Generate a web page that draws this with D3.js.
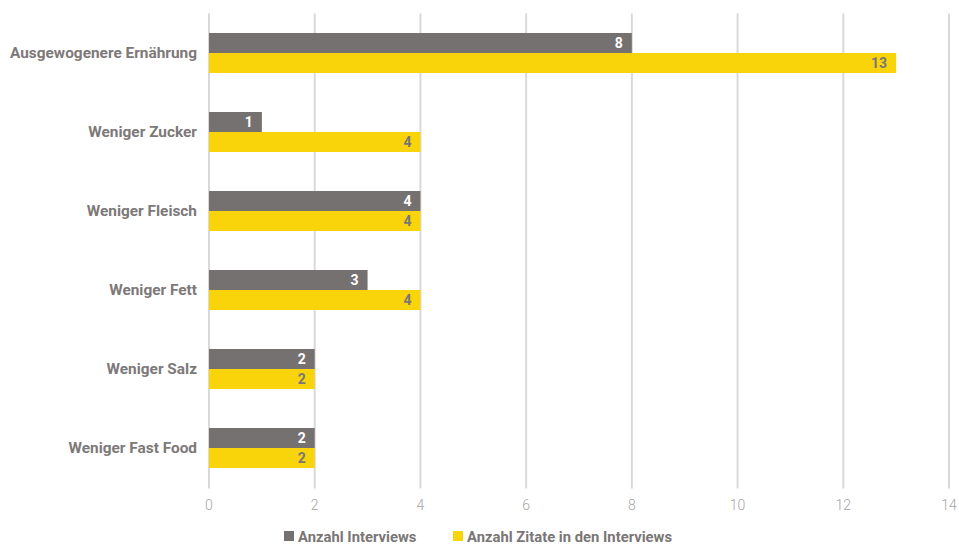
<!DOCTYPE html>
<html lang="de">
    <head>
        <meta charset="utf-8">
        <script type="text/javascript" src="https://cdn.jsdelivr.net/npm/d3@7"></script>
        <title>Ernährung</title>
        <style type="text/css">
            body { margin: 0; background: #fff; }
            text { font-family: Roboto, "Noto Sans", sans-serif; }
        </style>
    </head>
    <body>
        <script type="text/javascript">
            var w = 959;
            var h = 545;

            var categories = ["Ausgewogenere Ernährung", "Weniger Zucker", "Weniger Fleisch", "Weniger Fett", "Weniger Salz", "Weniger Fast Food"];
            var interviews = [8, 1, 4, 3, 2, 2];
            var zitate = [13, 4, 4, 4, 2, 2];
            var seriesNames = ["Anzahl Interviews", "Anzahl Zitate in den Interviews"];
            var tickValues = [0, 2, 4, 6, 8, 10, 12, 14];

            var colors = ["#767171", "#f9d40a"];
            var labelColors = ["#ffffff", "#7a7676"];

            var plotLeft = 209, plotRight = 949, plotTop = 13.5, plotBottom = 487.5;

            var xScale = d3.scaleLinear()
                            .domain([0, 14])
                            .range([plotLeft, plotRight]);

            var yScale = d3.scaleBand()
                            .domain(categories)
                            .range([plotTop, plotBottom]);

            var inner = d3.scaleBand()
                            .domain([0, 1])
                            .range([0, 40]);

            var svg = d3.select("body")
                        .append("svg")
                        .attr("width", w)
                        .attr("height", h);

            // vertical grid lines (extend a bit below the plot like tick marks)
            svg.selectAll("line.grid")
                .data(tickValues)
                .enter()
                .append("line")
                .attr("class", "grid")
                .attr("x1", function(d){ return xScale(d); })
                .attr("x2", function(d){ return xScale(d); })
                .attr("y1", plotTop)
                .attr("y2", plotBottom + 1)
                .attr("stroke", "#d9d9d9")
                .attr("stroke-width", 2);

            // x tick labels
            svg.selectAll("text.tick")
                .data(tickValues)
                .enter()
                .append("text")
                .attr("class", "tick")
                .text(function(d){ return d; })
                .attr("x", function(d){ return xScale(d); })
                .attr("y", 510)
                .attr("font-size", "14px")
                .attr("font-weight", 300)
                .attr("fill", "#a6a6a6")
                .attr("text-anchor", "middle");

            // category labels
            svg.selectAll("text.cat")
                .data(categories)
                .enter()
                .append("text")
                .attr("class", "cat")
                .text(function(d){ return d; })
                .attr("x", 197)
                .attr("y", function(d){ return yScale(d) + yScale.bandwidth() / 2 + 5; })
                .attr("font-size", "15.4px")
                .attr("font-weight", "bold")
                .attr("fill", "#7d7979")
                .attr("text-anchor", "end");

            var rows = [];
            categories.forEach(function(c, i){
                rows.push({cat: c, s: 0, v: interviews[i]});
                rows.push({cat: c, s: 1, v: zitate[i]});
            });

            var groupOffset = (yScale.bandwidth() - 40) / 2;

            svg.selectAll("rect.bar")
                .data(rows)
                .enter()
                .append("rect")
                .attr("class", "bar")
                .attr("x", xScale(0))
                .attr("y", function(d){ return yScale(d.cat) + groupOffset + inner(d.s); })
                .attr("width", function(d){ return xScale(d.v) - xScale(0); })
                .attr("height", inner.bandwidth())
                .attr("fill", function(d){ return colors[d.s]; });

            // value labels inside end of bars
            svg.selectAll("text.val")
                .data(rows)
                .enter()
                .append("text")
                .attr("class", "val")
                .text(function(d){ return d.v; })
                .attr("x", function(d){ return xScale(d.v) - 9; })
                .attr("y", function(d){ return yScale(d.cat) + groupOffset + inner(d.s) + inner.bandwidth() / 2 + 5; })
                .attr("font-size", "14px")
                .attr("font-weight", "bold")
                .attr("fill", function(d){ return labelColors[d.s]; })
                .attr("text-anchor", "end");

            // legend
            var legendX = [284, 453];
            var legend = svg.selectAll("g.legend")
                .data(seriesNames)
                .enter()
                .append("g")
                .attr("class", "legend")
                .attr("transform", function(d, i){ return "translate(" + legendX[i] + ",531)"; });

            legend.append("rect")
                .attr("width", 10)
                .attr("height", 10)
                .attr("fill", function(d, i){ return colors[i]; });

            legend.append("text")
                .text(function(d){ return d; })
                .attr("x", 14)
                .attr("y", 10.5)
                .attr("font-size", "14.8px")
                .attr("font-weight", "bold")
                .attr("fill", "#7a7676");
        </script>
    </body>
</html>
